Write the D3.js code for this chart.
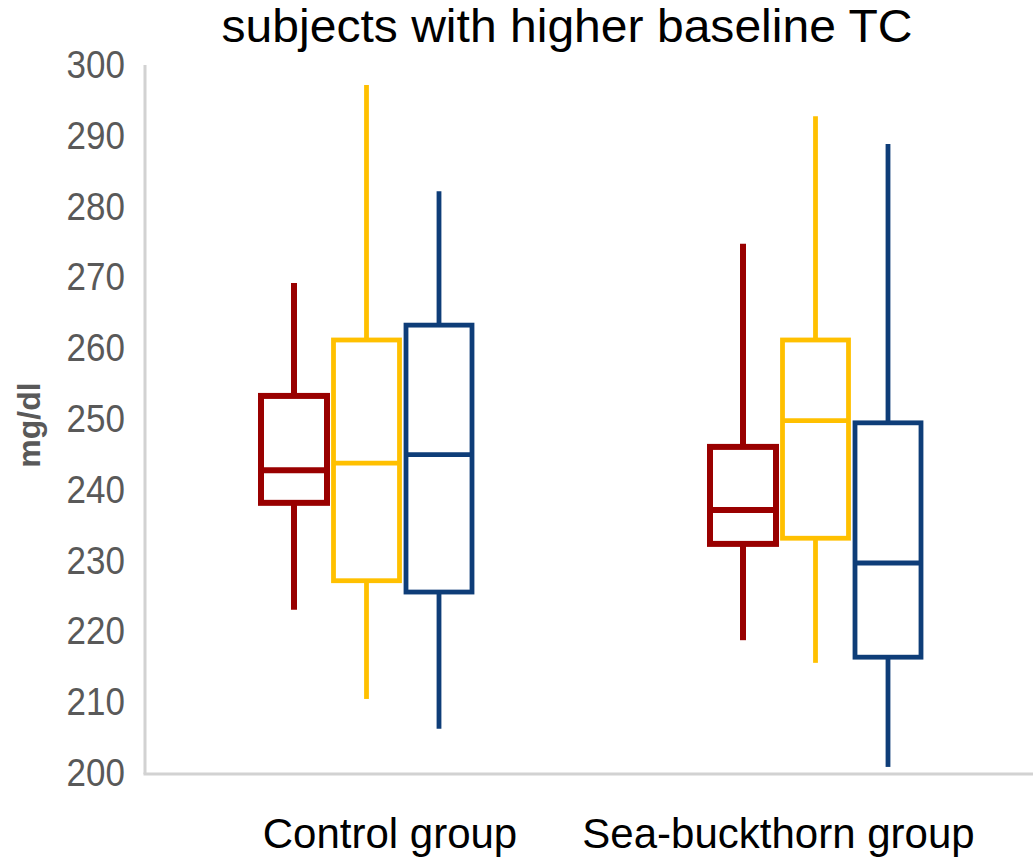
<!DOCTYPE html>
<html>
<head>
<meta charset="utf-8">
<script src="https://cdn.jsdelivr.net/npm/d3@7"></script>
<style>
  html, body { margin: 0; padding: 0; background: #fff; }
  svg { display: block; font-family: "Liberation Sans", Arial, sans-serif; }
</style>
</head>
<body>
<svg id="chart" width="1033" height="860"></svg>
<script>
// Box-plot statistics (mg/dl) per group, one entry per series
const groups = ["Control group", "Sea-buckthorn group"];
const seriesNames = ["Series A", "Series B", "Series C"];
const seriesColors = ["#990000", "#FFC000", "#0E3D78"];
const seriesStroke = [6, 4.8, 4.8];

const minValues    = [[223.2, 210.6, 206.4], [218.9, 215.7, 201.0]];
const q1Values     = [[238.3, 227.3, 225.7], [232.5, 233.3, 216.5]];
const medianValues = [[242.9, 243.9, 245.1], [237.3, 249.9, 229.8]];
const q3Values     = [[253.4, 261.3, 263.4], [246.2, 261.3, 249.6]];
const maxValues    = [[269.35, 297.3, 282.3], [274.9, 292.9, 289.0]];

const yTicks = [200, 210, 220, 230, 240, 250, 260, 270, 280, 290, 300];
const titleText = "subjects with higher baseline TC";
const yLabel = "mg/dl";

const svg = d3.select("#chart");

const y = d3.scaleLinear().domain([200, 300]).range([774, 66]);
const x = d3.scaleBand().domain(groups).range([142, 1040]).padding(0);
const xs = d3.scaleBand().domain(seriesNames)
  .range([-108.75, 108.75]).padding(0);

const boxWidth = 66;
const axisX = 145;

// Axes lines
svg.append("line")
  .attr("x1", axisX).attr("x2", axisX)
  .attr("y1", y(300) - 1).attr("y2", y(200))
  .attr("stroke", "#d2d2d2").attr("stroke-width", 3);
svg.append("line")
  .attr("x1", axisX - 1.5).attr("x2", 1033)
  .attr("y1", y(200)).attr("y2", y(200))
  .attr("stroke", "#d2d2d2").attr("stroke-width", 3);

// Y tick labels via d3 axis
const yAxis = d3.axisLeft(y).tickValues(yTicks).tickSize(0).tickPadding(0);
const gy = svg.append("g").attr("transform", `translate(125,0)`).call(yAxis);
gy.select(".domain").remove();
gy.selectAll("text")
  .attr("font-family", "Liberation Sans, Arial, sans-serif")
  .attr("font-size", 35)
  .attr("fill", "#595959")
  .attr("dy", "0.3em")
  .attr("transform", "scale(1,1.1)");

// Y axis title
svg.append("text")
  .attr("transform", "translate(40,425) rotate(-90)")
  .attr("text-anchor", "middle")
  .attr("font-size", 32)
  .attr("font-weight", "bold")
  .attr("fill", "#595959")
  .text(yLabel);

// Chart title
svg.append("text")
  .attr("transform", "translate(567,42) scale(1.045,1)")
  .attr("text-anchor", "middle")
  .attr("font-size", 46)
  .attr("fill", "#000")
  .text(titleText);

// Category labels
const labelShift = [23.5, -37];
svg.append("g").selectAll("text")
  .data(groups)
  .join("text")
  .attr("x", (d, i) => x(d) + x.bandwidth() / 2 + labelShift[i])
  .attr("y", 848)
  .attr("text-anchor", "middle")
  .attr("font-size", 42)
  .attr("fill", "#000")
  .text(d => d);

// Boxes
groups.forEach((g, gi) => {
  const cx0 = x(g) + x.bandwidth() / 2;
  seriesNames.forEach((s, si) => {
    const cx = cx0 + xs(s) + xs.bandwidth() / 2;
    const col = seriesColors[si];
    const sw = seriesStroke[si];
    const grp = svg.append("g");
    // upper whisker
    grp.append("line")
      .attr("x1", cx).attr("x2", cx)
      .attr("y1", y(maxValues[gi][si])).attr("y2", y(q3Values[gi][si]))
      .attr("stroke", col).attr("stroke-width", sw);
    // lower whisker
    grp.append("line")
      .attr("x1", cx).attr("x2", cx)
      .attr("y1", y(q1Values[gi][si])).attr("y2", y(minValues[gi][si]))
      .attr("stroke", col).attr("stroke-width", sw);
    // box
    grp.append("rect")
      .attr("x", cx - boxWidth / 2)
      .attr("y", y(q3Values[gi][si]))
      .attr("width", boxWidth)
      .attr("height", y(q1Values[gi][si]) - y(q3Values[gi][si]))
      .attr("fill", "none")
      .attr("stroke", col).attr("stroke-width", sw);
    // median
    grp.append("line")
      .attr("x1", cx - boxWidth / 2).attr("x2", cx + boxWidth / 2)
      .attr("y1", y(medianValues[gi][si])).attr("y2", y(medianValues[gi][si]))
      .attr("stroke", col).attr("stroke-width", sw);
  });
});
</script>
</body>
</html>
